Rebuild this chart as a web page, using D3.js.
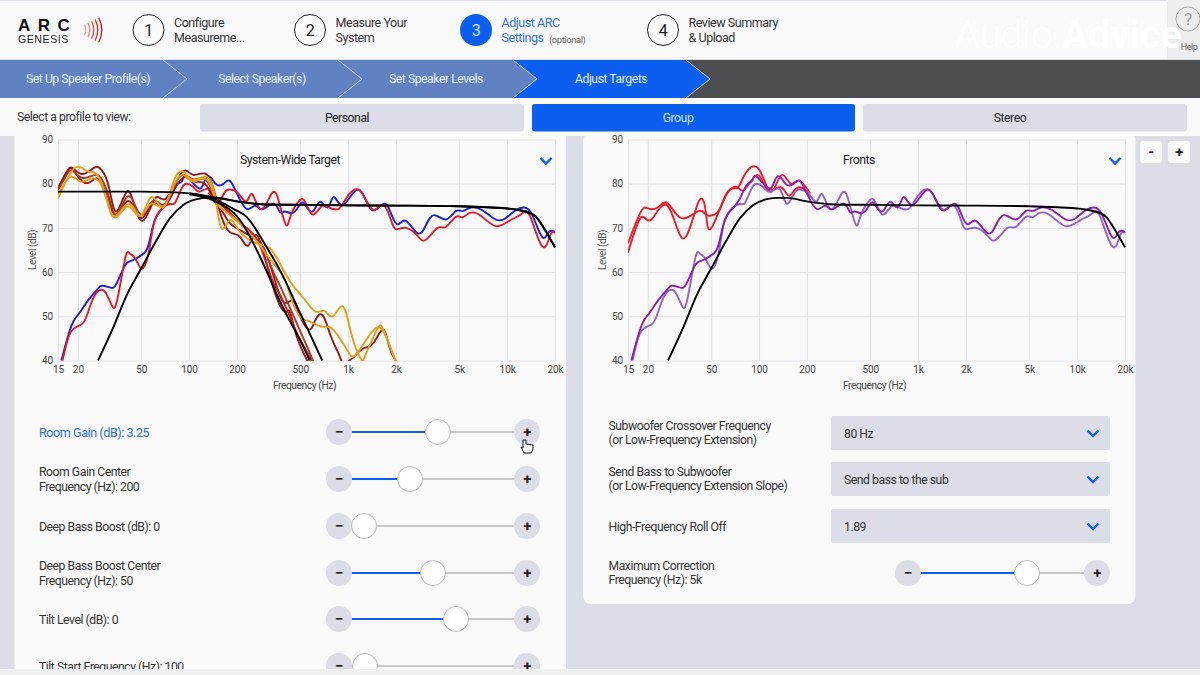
<!DOCTYPE html>
<html><head><meta charset="utf-8">
<script src="https://cdn.jsdelivr.net/npm/d3@7"></script>
<style>
html,body{margin:0;padding:0;background:#fff;overflow:hidden}
svg{display:block}
text{font-family:Roboto,"Liberation Sans",Arial,sans-serif;letter-spacing:-.45px}
.tick text{letter-spacing:-.1px}
</style></head><body><svg id="c" width="1200" height="675"></svg>
<script>
// ---- chart data: [Hz, dB] ----
const xTicks=[15,20,50,100,200,500,1000,2000,5000,10000,20000];
const xTickLabels=["15","20","50","100","200","500","1k","2k","5k","10k","20k"];
const yTicks=[40,50,60,70,80,90];

const subBlue=[[15.75,40],[17.5,46],[19,49.2],[20.7,51],[23.3,53.7],[26.4,56],[28.3,56.9],[32,56.5],[35,57.4],[39.7,61.6],[43.7,62.6],[50.5,63.9],[55.6,66.1],[61,71.8],[69,74.6],[75.9,76.7],[83.7,79.7],[90,80.5],[94,81.8],[103,80.6],[115,79],[122,79.6],[130,81.6],[140,81],[150,79.7],[165,80],[180,80.7],[200,77.8],[230,74.3],[260,75],[290,74.2],[340,75.5],[372,73.6],[399,73.7],[450,73.4],[495,75.2],[532,75.4],[595,73.7],[667,75.9],[745,74.6],[813,77],[926,75.2],[1133,78.6],[1310,75.9],[1463,74],[1690,75.5],[1861,73.3],[2049,70.8],[2311,71.6],[2734,68.8],[3084,70.6],[3479,72.9],[4113,71.9],[4757,73.8],[5238,73.8],[5908,74.6],[6992,74],[8473,71.9],[9785,72.2],[11313,74],[12765,74.6],[14390,72.9],[16630,67.9],[18300,69.1],[20000,69.1]];
const mainRed=[[16,40],[17.5,45.4],[19,47.3],[20.7,48],[22.4,49.5],[25.2,54.4],[28.3,56],[30.5,54.8],[33,52.2],[35.5,54],[39.7,63.1],[42.4,64.2],[45.9,63.1],[50.5,60.8],[55.6,64.2],[59.5,70.3],[66,74],[75.9,75.4],[81.7,75.7],[90,79],[96.7,80],[106,79.3],[117,78.2],[135,78.7],[149,75.5],[166,77.8],[181,78.7],[204,77.8],[230,76],[250,77.6],[285,74.2],[335,78],[372,75.2],[408,70.6],[437,72.9],[495,76.2],[540,75.7],[600,73],[677,74.8],[763,74.6],[878,74.4],[1000,77.3],[1155,78.7],[1295,76.3],[1463,74],[1660,75.2],[1861,71.8],[2000,69.7],[2311,70],[2734,68.2],[3084,67.3],[3650,70],[4113,70.2],[4757,72.5],[5238,72.4],[5820,73.4],[6860,72.7],[8473,70.4],[10320,71.6],[12270,73.1],[13900,72.7],[16630,65.8],[18700,68.4],[20000,68.8]];
const darkRedA=[[15,79],[17,82.7],[18.4,83.6],[20.7,82.3],[23.3,82.7],[26,83.8],[28.3,83],[31.3,79.3],[34.9,73.7],[40.7,78.2],[45.9,74.4],[51,71.6],[57,74.4],[62.7,77],[70.7,76.5],[81.7,80],[94,83],[106,82],[126,82.3],[142,79],[160,72.5],[181,69],[209,68],[235,66],[266,68.4],[307,62],[354,54.4],[400,51],[430,51],[470,46],[520,42],[570,39]];
const darkRedB=[[15,79],[17,82.5],[18.4,83.4],[20.7,81],[23.3,80.2],[26,81.2],[28.3,80],[31.3,76],[34.9,73],[40.7,76],[45.9,74],[51,72.3],[57,75],[62.7,75.4],[70.7,75],[81.7,79],[94,81.5],[106,80.5],[126,80],[142,76.5],[160,74],[181,71],[209,69.5],[235,68.5],[266,67.5],[307,64],[354,57],[400,53],[450,53.5],[500,50],[570,47],[620,49],[690,50.3],[770,46],[860,42],[930,39]];
const brownC=[[15,78.5],[17,82],[18.4,83],[20.7,81.5],[23.3,81.5],[26,82],[28.3,81],[31.3,77],[34.9,73],[40.7,77],[45.9,75],[51,73],[57,75.5],[62.7,76],[70.7,75.5],[81.7,80],[94,82],[106,81],[126,81],[142,78],[160,75.5],[181,73],[209,71],[250,68.5],[290,66],[330,61],[372,57],[430,52],[495,47],[570,42],[630,38]];
const redBrownD=[[132,78],[150,76],[180,73.5],[210,71],[240,69.5],[270,67],[300,63],[340,57.5],[372,55],[430,50],[495,45],[570,41],[600,39]];
const darkRedTail=[[1000,39.8],[1100,41],[1240,42.7],[1440,43.9],[1660,47],[1820,43],[2000,39.8]];
const orangeA=[[15,76.7],[17,80.8],[19.7,83.8],[23.3,82.7],[26,82.3],[29,79],[31.3,75],[34,72.5],[39.7,75],[45,74.5],[50.5,72.9],[58.3,77],[69,74.6],[80,80.5],[92,82.7],[106,80.8],[129,81.6],[146,77],[160,69.9],[181,71.8],[209,69.1],[266,66.5],[322,65.4],[372,62],[430,58],[495,55.2],[555,53],[630,51],[710,51.2],[800,50],[912,52.3],[1000,49],[1100,43.5],[1240,39.5]];
const orangeB=[[15,77.5],[18,81.6],[20.7,80.5],[24.7,81.2],[29,78.6],[33.5,72.5],[39.7,74.6],[45,73.8],[50.5,72.9],[58.3,75.5],[69,74.8],[80,79.5],[92,82],[106,80.5],[129,81],[146,76.5],[165,74],[209,71],[266,67],[322,63],[393,59],[430,55],[495,50],[560,49],[677,47.7],[780,47.4],[900,44.7],[1000,42],[1100,41],[1295,44.6],[1530,47.5],[1730,45.4],[1960,40.5],[2080,39.5]];
const orangeC=[[1240,39.8],[1350,43],[1530,47.2],[1640,47.5],[1800,44],[2000,39.8]];

const targetLow=[[15,78.2],[50,78.2],[75,78.1],[100,77.8],[125,77.3],[150,76.8],[200,76],[300,75.3],[500,75.2],[1000,75.1],[2000,75.05],[5000,74.9],[8000,74.6],[10000,74.4],[12000,74],[15000,72.7],[17000,70],[20000,65.6]];
const highPass=[[26.8,40],[33.5,47.6],[40.6,54.8],[50,60.8],[62.7,67.3],[75.9,72.2],[92,75.2],[112,76.5],[132,76.8],[150,76.8],[200,76],[300,75.3],[500,75.2],[1000,75.1],[2000,75.05],[5000,74.9],[8000,74.6],[10000,74.4],[12000,74],[15000,72.7],[17000,70],[20000,65.6]];
const lowPassA=[[100,77.6],[142,76.2],[209,71.8],[292,62],[354,55.2],[425,49.3],[500,44.6],[573,40]];
const lowPassB=[[100,77.8],[142,76.7],[190,74.3],[230,72.5],[307,65.7],[372,60.5],[500,50.7],[688,40]];

const frontRedA=[[15,66.5],[18.1,73.7],[20,74.4],[23,74.6],[26.6,75.6],[32.5,72.2],[41.5,73.8],[46.3,73],[50,72.8],[56,74],[63,78],[73.2,79.2],[81.3,78.7],[98,82],[113,78.7],[137,79.2],[154,77.3],[178,79.2],[215,76.7]];
const frontRedB=[[15,64.4],[18.1,72.4],[20.9,71.8],[26.6,75],[33.5,67.6],[41.5,75.8],[46.3,73.5],[50,69.9],[63,77.8],[73,79],[82,82.3],[98,83.6],[113,79],[125,79],[140,82],[158,80],[178,80.7],[210,77.8]];

const groupSeries=[[darkRedA,"#8f1a1f"],[darkRedB,"#8f1a1f"],[brownC,"#a93a22"],[redBrownD,"#c8202a"],[darkRedTail,"#8f1a1f"],[orangeA,"#e0a019"],[orangeB,"#e0a019"],[orangeC,"#e0a019"]];
const rightSeries=[[frontRedA,"#e8202e"],[frontRedB,"#e8202e"],[mainRed,"#9461c9"],[subBlue,"#8a1fb0"]];

// ---- interface text ----
const steps=[[148.5,"1",["Configure","Measureme..."],false],[310,"2",["Measure Your","System"],false],[476,"3",["Adjust ARC","Settings"],true],[663,"4",["Review Summary","& Upload"],false]];
const crumbs=["Set Up Speaker Profile(s)","Select Speaker(s)","Set Speaker Levels","Adjust Targets"];
const crumbLabelX=[88,262,436,611];
const chevronTips=[187,362,537,710];
const profiles=[["Personal",200,524,347,false],["Group",532,855,678,true],["Stereo",863,1187,1010,false]];
const leftSliders=[["Room Gain (dB): 3.25",null,432,438,true],["Room Gain Center","Frequency (Hz): 200",479,410,false],["Deep Bass Boost (dB): 0",null,526,364,false],["Deep Bass Boost Center","Frequency (Hz): 50",573,433,false],["Tilt Level (dB): 0",null,619,456,false],["Tilt Start Frequency (Hz): 100",null,666,365,false]];
const dropdowns=[["Subwoofer Crossover Frequency","(or Low-Frequency Extension)","80 Hz",433],["Send Bass to Subwoofer","(or Low-Frequency Extension Slope)","Send bass to the sub",479],["High-Frequency Roll Off",null,"1.89",526]];

const svg=d3.select("#c");
const BLUE="#0a5ff0",GUT="#dcdde6",BG="#fafafa",TXT="#333",FS=12.2;
const rect=(x,y,w,h,f,r=0)=>svg.append("rect").attr("x",x).attr("y",y).attr("width",w).attr("height",h).attr("fill",f).attr("rx",r);
const text=(x,y,s,size=12,fill=TXT,anchor="start",g=svg)=>g.append("text").attr("x",x).attr("y",y).attr("font-size",size).attr("fill",fill).attr("text-anchor",anchor).text(s);

rect(0,0,1200,675,GUT);
rect(0,1,1200,58,BG);
rect(1167,0,33,59,"#eeeeee");
// logo
text(18,31,"ARC",17,"#111").attr("font-weight",700).style("font-family","'Liberation Sans'").style("letter-spacing","7.5px");
text(18,43,"GENESIS",10.5,"#222").style("font-family","'Liberation Sans'").style("letter-spacing",".6px");
[11,15,19,23,27].forEach((r,i)=>{svg.append("path").attr("d",d3.arc()({innerRadius:r,outerRadius:r+1.3,startAngle:Math.PI/2-.46,endAngle:Math.PI/2+.46})).attr("transform","translate(74,30)").attr("fill",["#ea9","#e77","#e44","#d22","#c11"][i]);});
// steps
steps.forEach(([cx,n,lines,act])=>{
 svg.append("circle").attr("cx",cx).attr("cy",30).attr("r",act?16:15.5).attr("fill",act?BLUE:"none").attr("stroke",act?"none":"#222").attr("stroke-width",1);
 text(cx,35.5,n,16,act?"#cfe0ff":"#222","middle");
 const c=act?"#2a6fe0":TXT;
 text(cx+25.5,27,lines[0],12.5,c);
 text(cx+25.5,42,lines[1],12.5,c);
});
text(549,42.5,"(optional)",9.5,"#666");
text(955,48,"Audio",39,"#ffffff").attr("font-weight",300).style("letter-spacing","0");
text(1062,48,"Advice",39,"#ffffff").attr("font-weight",700).style("letter-spacing","0");
svg.append("circle").attr("cx",1188).attr("cy",19).attr("r",12).attr("fill","none").attr("stroke","#aaa");
text(1188,25,"?",17,"#999","middle");
text(1189,50,"Help",9,"#666","middle");
// breadcrumb
rect(0,60,1200,38,"#4d4e52");
crumbs.map((c,i)=>i).reverse().forEach(i=>{
 const t=chevronTips[i],top=t-24,x0=i?chevronTips[i-1]-24:0;
 const pts=[[x0,60],[top,60],[t,79],[top,98],[x0,98]];
 if(i)pts.push([x0+24,79]);
 svg.append("path").attr("d",d3.line()(pts)+"Z").attr("fill",i==3?BLUE:"#6082c2");
 svg.append("path").attr("d",d3.line()([[top,60],[t,79],[top,98]])).attr("fill","none").attr("stroke","#c8d6ee").attr("stroke-width",1);
});
crumbs.forEach((c,i)=>text(crumbLabelX[i],83,c,FS,"#e8eef8","middle"));
// profile bar
rect(0,98,1200,38,BG);
text(17,121,"Select a profile to view:",FS,TXT);
profiles.forEach(([s,a,b,lx,act])=>{rect(a,104,b-a,27.5,act?BLUE:GUT,3);text(lx,121.5,s,FS,act?"#cfe0ff":"#222","middle");});
// panels
rect(14.5,133,551.5,536,BG);
rect(583,133,552.5,471,BG,8);
rect(1140,141,22,22,BG,3);rect(1168,141,22,22,BG,3);
text(1151,157,"-",15,"#222","middle").attr("font-weight",700);text(1179,157,"+",15,"#222","middle").attr("font-weight",700);

// charts
function chart(x0,x1,title,titleX,chevX,series){
 const x=d3.scaleLog().domain([15,20000]).range([x0,x1]);
 const y=d3.scaleLinear().domain([40,90]).range([360.5,139.5]);
 const g=svg.append("g").attr("class","chart");
 const gx=g.append("g").attr("transform","translate(0,360.5)").call(d3.axisBottom(x).tickValues(xTicks).tickFormat((d,i)=>xTickLabels[i]).tickSize(-221));
 const gy=g.append("g").attr("transform",`translate(${x0},0)`).call(d3.axisLeft(y).tickValues(yTicks).tickSize(-(x1-x0)));
 [gx,gy].forEach(a=>{a.select(".domain").remove();a.selectAll("line").attr("stroke","#e2e2e6").attr("stroke-width",1);a.selectAll("text").attr("font-size",10).attr("fill","#444");});
 gx.selectAll("text").attr("dy","0.9em");
 gy.selectAll("text").attr("x",-5).attr("dy","0.32em");
 const wiggly=d3.line().x(d=>x(d[0])).y(d=>y(d[1])).curve(d3.curveNatural);
 const smooth=d3.line().x(d=>x(d[0])).y(d=>y(d[1])).curve(d3.curveMonotoneX);
 const clip="clip"+x0;
 g.append("clipPath").attr("id",clip).append("rect").attr("x",x0).attr("y",139).attr("width",x1-x0+1).attr("height",222);
 const m=g.append("g").attr("clip-path",`url(#${clip})`);
 series.forEach(([d,c,black])=>m.append("path").attr("d",(black?smooth:wiggly)(d)).attr("fill","none").attr("stroke",c).attr("stroke-width",1.9).attr("stroke-linejoin","round"));
 text(titleX,164,title,FS,"#222","middle");
 text(x0+(x1-x0)/2-2,389,"Frequency (Hz)",10.3,"#444","middle");
 g.append("text").attr("transform",`translate(${x0-22},250) rotate(-90)`).attr("text-anchor","middle").attr("font-size",10).attr("fill","#555").text("Level (dB)");
 svg.append("path").attr("d",d3.line()([[chevX-5.5,158],[chevX,163.5],[chevX+5.5,158]])).attr("fill","none").attr("stroke",BLUE).attr("stroke-width",2.4);
}
chart(58,555,"System-Wide Target",290,546,[
 [subBlue,"#1a1fd6"],[mainRed,"#dd1c2c"],
 ...groupSeries,
 [lowPassA,"#000",1],[lowPassB,"#000",1],[targetLow,"#000",1],[highPass,"#000",1]]);
chart(628,1125,"Fronts",859,1115,[...rightSeries,[highPass,"#000",1]]);

// sliders
function slider(xm,xp,yc,kx){
 svg.append("line").attr("x1",xm).attr("x2",xp).attr("y1",yc).attr("y2",yc).attr("stroke","#c8c8cc").attr("stroke-width",2);
 svg.append("line").attr("x1",xm).attr("x2",kx).attr("y1",yc).attr("y2",yc).attr("stroke",BLUE).attr("stroke-width",2);
 [[xm,"−"],[xp,"+"]].forEach(([x,s])=>{svg.append("circle").attr("cx",x).attr("cy",yc).attr("r",13).attr("fill",GUT);text(x,yc+5,s,15,"#222","middle").attr("font-weight",700);});
 svg.append("circle").attr("cx",kx).attr("cy",yc).attr("r",12.5).attr("fill","#fff").attr("stroke","#bbb");
}
leftSliders.forEach(([a,b,yc,kx,act])=>{
 if(b){text(39,yc-3,a,FS,TXT);text(39,yc+12,b,FS,TXT);} else text(39,yc+4.5,a,act?12.6:FS,act?"#2a6fe0":TXT);
 slider(339,527,yc,kx);
});
rect(0,669,1200,6,"#eef0f2");
// cursor
svg.append("path").attr("d","M523 440 v8 l-2 -1 l3 6 h7 l2 -4 v-4 l-7 -1 v-4 z").attr("fill","#fff").attr("stroke","#111").attr("stroke-width",1);

dropdowns.forEach(([a,b,v,yc])=>{
 if(b){text(608.5,yc-3.5,a,FS,TXT);text(608.5,yc+11,b,FS,TXT);} else text(608.5,yc+4.5,a,FS,TXT);
 rect(831,yc-17,279,34,GUT,2);
 text(844,yc+4.5,v,FS,TXT);
 svg.append("path").attr("d",d3.line()([[1087.5,yc-2.5],[1093,yc+3],[1098.5,yc-2.5]])).attr("fill","none").attr("stroke",BLUE).attr("stroke-width",2.4);
});
text(608.5,569.5,"Maximum Correction",FS,TXT);text(608.5,584,"Frequency (Hz): 5k",FS,TXT);
slider(908,1097,573,1027);
</script></body></html>
